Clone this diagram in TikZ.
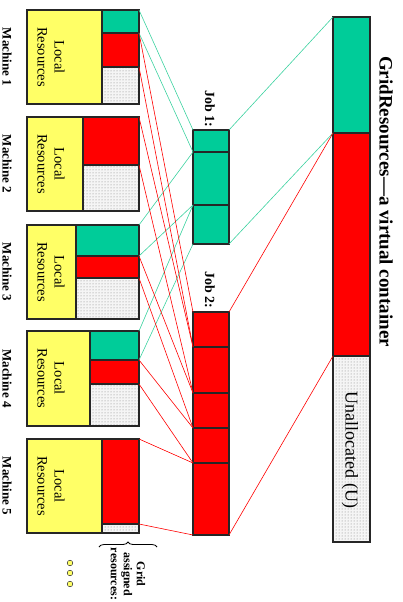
\documentclass[tikz,border=0pt]{standalone}
\usepackage{fontspec}
\setmainfont{Liberation Serif}
\usetikzlibrary{patterns,decorations.pathreplacing}
\definecolor{jobgreen}{RGB}{0,204,153}
\definecolor{localyellow}{RGB}{255,255,102}
\definecolor{linkgreen}{RGB}{60,210,160}

\begin{document}
\begin{tikzpicture}[x=1pt, y=-1pt,
  cell/.style={draw=black!85, line width=1.4pt, rectangle, inner sep=0pt, outer sep=0pt},
  local/.style={cell, fill=localyellow},
  used1/.style={cell, fill=jobgreen},
  used2/.style={cell, fill=red},
  free/.style={cell, preaction={fill=gray!8}, pattern=dots, pattern color=gray},
  mlabel/.style={rotate=-90, font=\fontsize{13}{15}\selectfont\bfseries},
  ltext/.style={rotate=-90, align=center, font=\fontsize{14.5}{17}\selectfont},
  link1/.style={linkgreen, line width=0.6pt},
  link2/.style={red, line width=0.6pt}
]
\useasboundingbox (0,0) rectangle (402,602);

% Draw machine 1
\node[local, minimum width=75pt, minimum height=94pt] (m1y) at (64.5,57) {};
\node[used1, minimum width=37pt, minimum height=23pt] (m1g) at (120.5,21.5) {};
\node[used2, minimum width=37pt, minimum height=34pt] (m1r) at (120.5,50) {};
\node[free, minimum width=37pt, minimum height=37pt] (m1u) at (120.5,85.5) {};
\node[mlabel] (l1) at (7,57) {Machine 1};
\node[ltext] (t1) at (51,57) {Local\\Resources};

% Draw machine 2
\node[local, minimum width=56pt, minimum height=94pt] (m2y) at (55,164) {};
\node[used2, minimum width=56pt, minimum height=48pt] (m2r) at (111,141) {};
\node[free, minimum width=56pt, minimum height=46pt] (m2u) at (111,188) {};
\node[mlabel] (l2) at (7,164) {Machine 2};
\node[ltext] (t2) at (51,164) {Local\\Resources};

% Draw machine 3
\node[local, minimum width=49pt, minimum height=94pt] (m3y) at (51.5,272) {};
\node[used1, minimum width=63pt, minimum height=31pt] (m3g) at (107.5,240.5) {};
\node[used2, minimum width=63pt, minimum height=22pt] (m3r) at (107.5,267) {};
\node[free, minimum width=63pt, minimum height=41pt] (m3u) at (107.5,298.5) {};
\node[mlabel] (l3) at (7,272) {Machine 3};
\node[ltext] (t3) at (51,272) {Local\\Resources};

% Draw machine 4
\node[local, minimum width=63pt, minimum height=95pt] (m4y) at (58.5,378.5) {};
\node[used1, minimum width=49pt, minimum height=29pt] (m4g) at (114.5,345.5) {};
\node[used2, minimum width=49pt, minimum height=24pt] (m4r) at (114.5,372) {};
\node[free, minimum width=49pt, minimum height=42pt] (m4u) at (114.5,405) {};
\node[mlabel] (l4) at (7,378.5) {Machine 4};
\node[ltext] (t4) at (51,378.5) {Local\\Resources};

% Draw machine 5
\node[local, minimum width=75pt, minimum height=94pt] (m5y) at (64.5,486) {};
\node[used2, minimum width=37pt, minimum height=85pt] (m5r) at (120.5,481.5) {};
\node[free, minimum width=37pt, minimum height=9pt] (m5u) at (120.5,528.5) {};
\node[mlabel] (l5) at (7,486) {Machine 5};
\node[ltext] (t5) at (51,486) {Local\\Resources};

% Grid assigned resources
\draw[line width=0.8pt, decorate, decoration={brace, amplitude=5pt}] (99,547) -- (157,547);
\node[rotate=-90, align=center, font=\fontsize{12}{13}\selectfont\bfseries] (ga) at (128,574) {Grid\\assigned\\resources:};
\foreach \y in {563,573,584}
  \draw[fill=localyellow, draw=black!80, line width=0.5pt] (70,\y) circle (2.8);

% Draw job 1
\node[used1, minimum width=36pt, minimum height=22pt] (j1a) at (211,141) {};
\node[used1, minimum width=36pt, minimum height=53pt] (j1b) at (211,178.5) {};
\node[used1, minimum width=36pt, minimum height=39pt] (j1c) at (211,224.5) {};
\node[mlabel, font=\fontsize{14}{16}\selectfont\bfseries] (jl1) at (210,109) {Job 1:};

% Draw job 2
\node[used2, minimum width=36pt, minimum height=35pt] (j2a) at (211,329.5) {};
\node[used2, minimum width=36pt, minimum height=46pt] (j2b) at (211,370) {};
\node[used2, minimum width=36pt, minimum height=35pt] (j2c) at (211,410.5) {};
\node[used2, minimum width=36pt, minimum height=35pt] (j2d) at (211,445.5) {};
\node[used2, minimum width=36pt, minimum height=72pt] (j2e) at (211,499) {};
\node[mlabel, font=\fontsize{14}{16}\selectfont\bfseries] (jl2) at (210,290) {Job 2:};

% Draw virtual container
\node[used1, minimum width=37pt, minimum height=116pt] (gg) at (351.5,75) {};
\node[used2, minimum width=37pt, minimum height=223pt] (gr) at (351.5,244.5) {};
\node[free, minimum width=37pt, minimum height=186pt] (gu) at (351.5,449) {};
\node[ltext, font=\fontsize{18}{20}\selectfont] (ut) at (350,450) {Unallocated (U)};
\node[mlabel, font=\fontsize{19}{21}\selectfont\bfseries] (title) at (386,201.5) {GridResources---a virtual container};

% Links machines -> job 1
\draw[link1] (m1g.north east) -- (j1a.north west);
\draw[link1] (m1g.south east) -- (j1a.south west);
\draw[link1] (m3g.north east) -- (j1b.north west);
\draw[link1] (m3g.south east) -- (j1b.south west);
\draw[link1] (m4g.north east) -- (j1c.north west);
\draw[link1] (m4g.south east) -- (j1c.south west);

% Links machines -> job 2
\draw[link2] (m1r.north east) -- (j2a.north west);
\draw[link2] (m1r.south east) -- (j2a.south west);
\draw[link2] (m2r.north east) -- (j2b.north west);
\draw[link2] (m2r.south east) -- (j2b.south west);
\draw[link2] (m3r.north east) -- (j2c.north west);
\draw[link2] (m3r.south east) -- (j2c.south west);
\draw[link2] (m4r.north east) -- (j2d.north west);
\draw[link2] (m4r.south east) -- (j2d.south west);
\draw[link2] (m5r.north east) -- (j2e.north west);
\draw[link2] (m5r.south east) -- (j2e.south west);

% Links jobs -> container
\draw[link1] (j1a.north east) -- (gg.north west);
\draw[link1] (j1c.south east) -- (gg.south west);
\draw[link2] (j2a.north east) -- (gr.north west);
\draw[link2] (j2e.south east) -- (gr.south west);

\end{tikzpicture}
\end{document}
